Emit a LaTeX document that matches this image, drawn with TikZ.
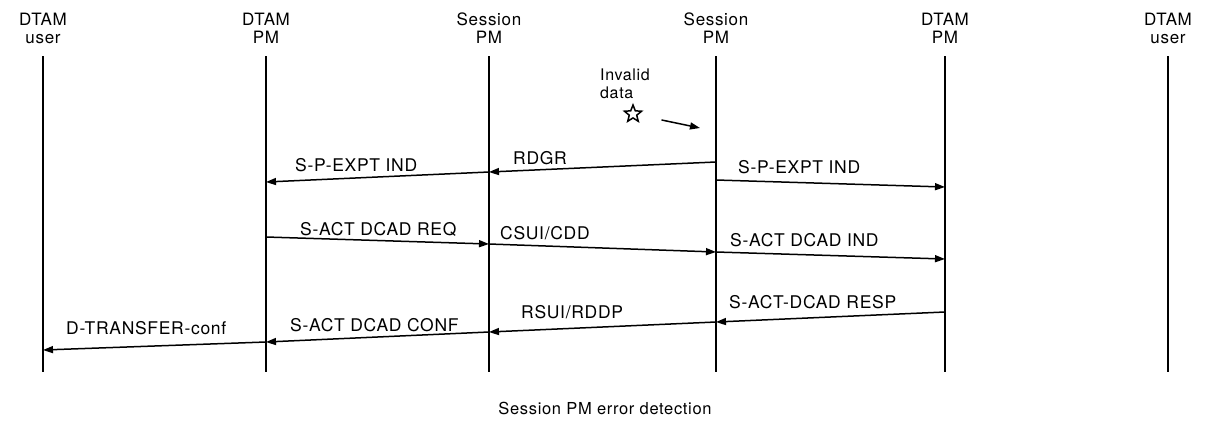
\documentclass[tikz,border=0pt]{standalone}
\usepackage{fontspec}
\setmainfont{TeX Gyre Heros}[LetterSpace=4]
\usetikzlibrary{arrows.meta}
\usetikzlibrary{shapes.geometric}

\begin{document}
\begin{tikzpicture}[x=1pt,y=-1pt,
	head/.style={align=center,inner sep=0pt,font=\fontsize{17}{18}\selectfont},
	lifeline/.style={line width=2pt},
	msg/.style={line width=1.5pt,-{Triangle[length=10pt,width=7pt]}},
	lbl/.style={anchor=base west,inner sep=0pt,font=\fontsize{17.5}{18}\selectfont}]
	\useasboundingbox (0,0) rectangle (1205,421);
	% entities
	\node[head] (ua) at (43,28) {DTAM\\user};
	\node[head] (da) at (266,28) {DTAM\\PM};
	\node[head] (sa) at (489,28) {Session\\PM};
	\node[head] (sb) at (716,28) {Session\\PM};
	\node[head] (db) at (945,28) {DTAM\\PM};
	\node[head] (ub) at (1168,28) {DTAM\\user};
	\foreach \n/\x in {ua/43,da/266,sa/489,sb/716,db/945,ub/1168}
		\draw[lifeline] (\x,56) coordinate (\n-top) -- (\x,372) coordinate (\n-bot);
	% error detected
	\node[head,align=left,anchor=west,font=\fontsize{16}{18}\selectfont] (inv) at (600,84) {Invalid\\data};
	\node[star,star points=5,star point ratio=2.3,draw,line width=1.5pt,minimum size=18pt,inner sep=0pt] (err) at (633,114) {};
	\coordinate (hit) at (700,128);
	\draw[msg,shorten <=24pt] (err) -- (hit);
	% first row
	\draw[msg] (sb-top |- 0,162) -- (sa-top |- 0,172);
	\draw[msg] (sa-top |- 0,172) -- (da-top |- 0,182);
	\draw[msg] (sb-top |- 0,180) -- (db-top |- 0,187);
	\node[lbl] (m1) at (295,171) {S-P-EXPT IND};
	\node[lbl] (m2) at (513,164) {RDGR};
	\node[lbl] (m3) at (738,173) {S-P-EXPT IND};
	% second row
	\draw[msg] (da-top |- 0,237) -- (sa-top |- 0,244);
	\draw[msg] (sa-top |- 0,244) -- (sb-top |- 0,252);
	\draw[msg] (sb-top |- 0,252) -- (db-top |- 0,259);
	\node[lbl] (m4) at (300,235) {S-ACT DCAD REQ};
	\node[lbl] (m5) at (500,239) {CSUI/CDD};
	\node[lbl] (m6) at (730,246) {S-ACT DCAD IND};
	% third row
	\draw[msg] (db-top |- 0,312) -- (sb-top |- 0,322);
	\draw[msg] (sb-top |- 0,322) -- (sa-top |- 0,332);
	\draw[msg] (sa-top |- 0,332) -- (da-top |- 0,342);
	\draw[msg] (da-top |- 0,342) -- (ua-top |- 0,350);
	\node[lbl] (m7) at (729,308) {S-ACT-DCAD RESP};
	\node[lbl] (m8) at (521,318) {RSUI/RDDP};
	\node[lbl] (m9) at (290,331) {S-ACT DCAD CONF};
	\node[lbl] (m10) at (66,334) {D-TRANSFER-conf};
	% caption
	\node[head,font=\fontsize{16.5}{18}\selectfont] (cap) at (605,408) {Session PM error detection};
\end{tikzpicture}
\end{document}
